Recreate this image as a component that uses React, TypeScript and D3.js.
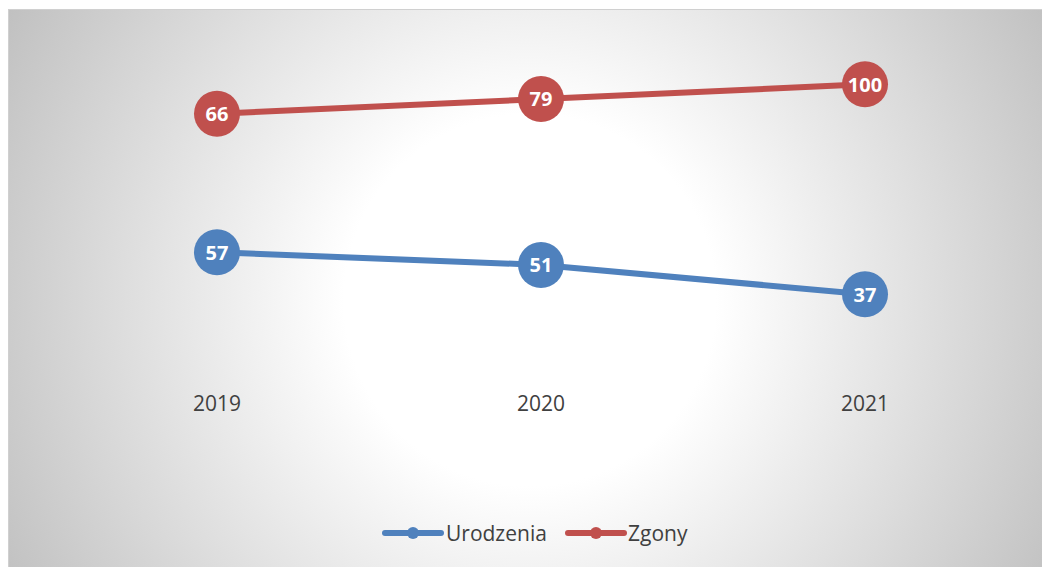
import React from 'react';
import * as d3 from 'd3';

const years = ['2019', '2020', '2021'];
const urodzenia = [57, 51, 37];
const zgony = [66, 79, 100];
const seriesNames = ['Urodzenia', 'Zgony'];
const seriesColors = ['#4f81bd', '#c0504d'];

export default function App() {
  const width = 1042;
  const height = 567;
  const frame = { x: 8, y: 9 };

  // stacked line chart: second series sits on top of the first
  const stacked = [urodzenia, urodzenia.map((d, i) => d + zgony[i])];
  const labels = [urodzenia, zgony];

  const xScale = d3.scalePoint().domain(years).range([217, 865]);
  const yScale = d3.scaleLinear().domain([0, 160]).range([372, 36]);

  const line = d3.line<number>()
    .x((d, i) => xScale(years[i]) as number)
    .y(d => yScale(d));

  const font = "'Open Sans', 'DejaVu Sans', sans-serif";

  const legend = [
    { x: 385, textX: 446 },
    { x: 568, textX: 628 },
  ];

  return (
    <svg width={width} height={height} style={{ position: 'fixed', left: 0, top: 0 }}>
      <defs>
        <radialGradient id="bg" gradientUnits="userSpaceOnUse" cx={530} cy={300} r={620}>
          <stop offset="0" stopColor="#ffffff" />
          <stop offset="0.3" stopColor="#ffffff" />
          <stop offset="1" stopColor="#bdbdbd" />
        </radialGradient>
      </defs>
      <rect x={0} y={0} width={width} height={height} fill="#ffffff" />
      <rect x={frame.x} y={frame.y} width={width - frame.x} height={height - frame.y} fill="url(#bg)" />
      <line x1={frame.x} x2={width} y1={frame.y + 0.5} y2={frame.y + 0.5} stroke="#d0d0d0" strokeWidth={1} />
      <line x1={frame.x + 0.5} x2={frame.x + 0.5} y1={frame.y} y2={height} stroke="#d0d0d0" strokeWidth={1} />

      {stacked.map((s, si) => (
        <g key={si}>
          <path d={line(s) || ''} fill="none" stroke={seriesColors[si]} strokeWidth={6} />
          {s.map((d, i) => (
            <g key={i}>
              <circle cx={xScale(years[i])} cy={yScale(d)} r={23} fill={seriesColors[si]} />
              <text
                x={xScale(years[i])}
                y={yScale(d)}
                dy="0.36em"
                textAnchor="middle"
                fill="#ffffff"
                fontFamily={font}
                fontWeight="bold"
                fontSize={20}
              >
                {labels[si][i]}
              </text>
            </g>
          ))}
        </g>
      ))}

      {years.map(y => (
        <text
          key={y}
          x={xScale(y)}
          y={403}
          dy="0.36em"
          textAnchor="middle"
          fill="#404040"
          fontFamily={font}
          fontSize={21}
        >
          {y}
        </text>
      ))}

      {legend.map((l, i) => (
        <g key={i}>
          <line x1={l.x} x2={l.x + 56} y1={533} y2={533} stroke={seriesColors[i]} strokeWidth={6} strokeLinecap="round" />
          <circle cx={l.x + 28} cy={533} r={6} fill={seriesColors[i]} />
          <text x={l.textX} y={533} dy="0.36em" fill="#404040" fontFamily={font} fontSize={21}>
            {seriesNames[i]}
          </text>
        </g>
      ))}
    </svg>
  );
}
